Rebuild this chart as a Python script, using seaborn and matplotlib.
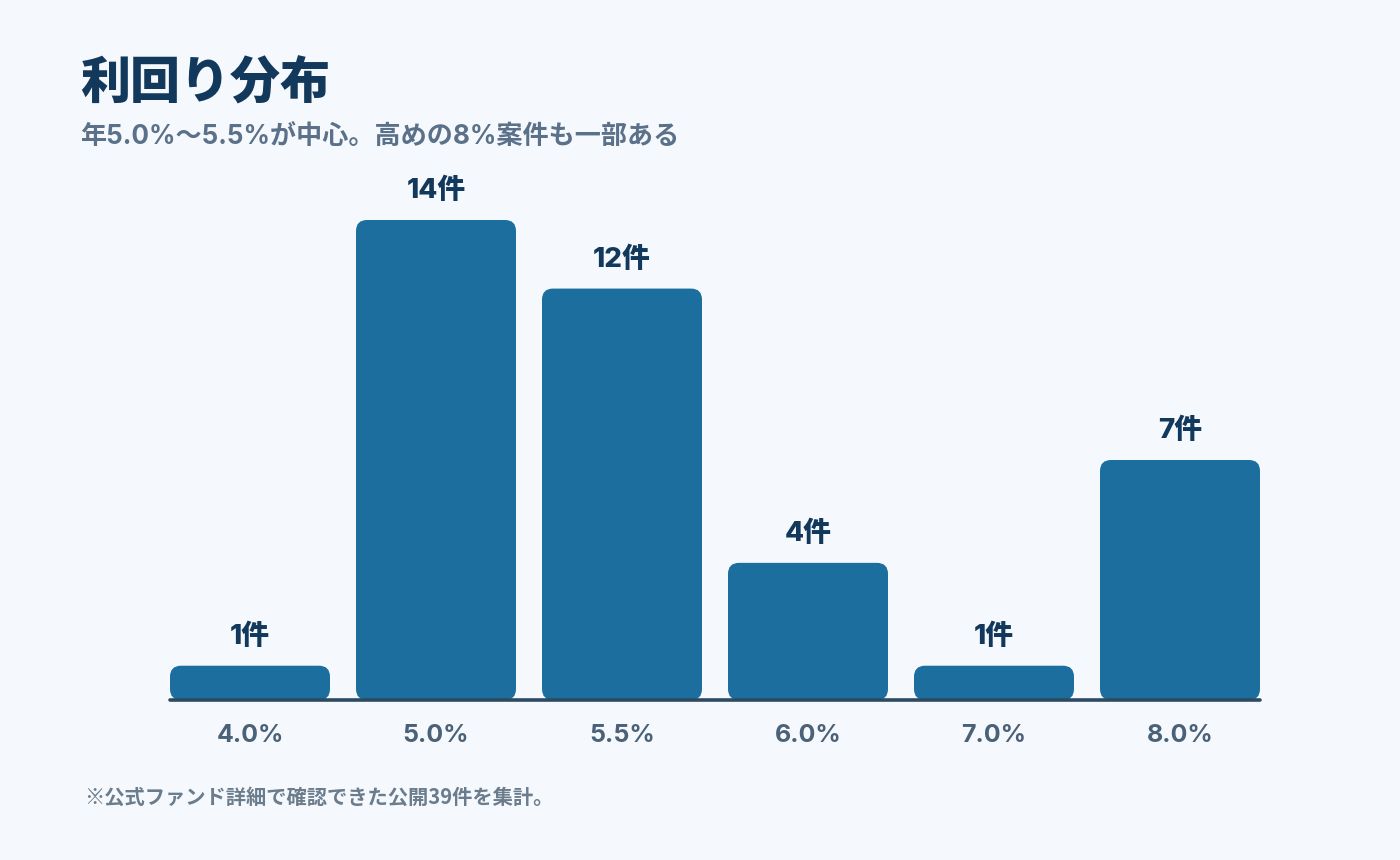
import matplotlib
matplotlib.use("Agg")
import matplotlib.pyplot as plt
import seaborn as sns
import pandas as pd
from matplotlib.patches import FancyBboxPatch

categories = ["4.0%", "5.0%", "5.5%", "6.0%", "7.0%", "8.0%"]
counts = [1, 14, 12, 4, 1, 7]
bar_labels = ["1件", "14件", "12件", "4件", "1件", "7件"]
title = "利回り分布"
subtitle = "年5.0%〜5.5%が中心。高めの8%案件も一部ある"
footnote = "※公式ファンド詳細で確認できた公開39件を集計。"

BG = "#f5f9fd"
BAR = "#1c6e9e"
NAVY = "#12395c"

sns.set_theme(style="white")
FAM = ['Inter', 'Noto Sans CJK JP', 'DejaVu Sans']
plt.rcParams['font.family'] = FAM

df = pd.DataFrame({"cat": categories, "n": counts})

W, H = 1400, 860
fig = plt.figure(figsize=(14, 8.6), dpi=100, facecolor=BG)
ax_left, ax_right = 170, 1260
ax_base, ax_top = 700, 180
ax = fig.add_axes([ax_left / W, (H - ax_base) / H, (ax_right - ax_left) / W, (ax_base - ax_top) / H])
ax.set_facecolor(BG)

sns.barplot(data=df, x="cat", y="n", color=BAR, width=160 / 186, saturation=1, ax=ax)

px_per_x = (ax_right - ax_left) / (5 + 160 / 186)
ymax = (ax_base - ax_top) / ((ax_base - 220) / 14)
px_per_y = (ax_base - ax_top) / ymax
ax.set_xlim(-80 / 186, 5 + 80 / 186)
ax.set_ylim(0, ymax)

r_px = 11
for p in list(ax.patches):
    x, y = p.get_x(), p.get_y()
    w, h = p.get_width(), p.get_height()
    p.remove()
    fb = FancyBboxPatch((x, y), w, h,
                        boxstyle=f"round,pad=0,rounding_size={r_px / px_per_x}",
                        mutation_aspect=px_per_x / px_per_y,
                        facecolor=BAR, edgecolor="none", zorder=2)
    ax.add_patch(fb)

for i, (v, lab) in enumerate(zip(counts, bar_labels)):
    ax.annotate(lab, (i, v), xytext=(0, 29), textcoords="offset pixels",
                ha="center", va="center", fontsize=20, fontweight="heavy", color=NAVY)

ax.axhline(0, color="#2c4a62", lw=2.6, zorder=3, clip_on=False)

for s in ax.spines.values():
    s.set_visible(False)
ax.set_yticks([])
ax.set_xlabel("")
ax.set_ylabel("")
ax.tick_params(axis="x", length=0, pad=17, labelsize=18, labelcolor="#4a6178")
for t in ax.get_xticklabels():
    t.set_fontweight("bold")

fig.text(80 / W, 1 - 84 / H, title, fontsize=36, fontweight="heavy", color=NAVY, va="center", ha="left")
fig.text(80 / W, 1 - 138 / H, subtitle, fontsize=18.8, fontweight="bold", color="#5a7189", va="center", ha="left")
fig.text(84 / W, 1 - 797 / H, footnote, fontsize=14.6, fontweight="bold", color="#6b7c8c", va="center", ha="left",
         family=['Noto Sans CJK JP', 'DejaVu Sans'])

fig.savefig("out.png", dpi=100, facecolor=BG)
